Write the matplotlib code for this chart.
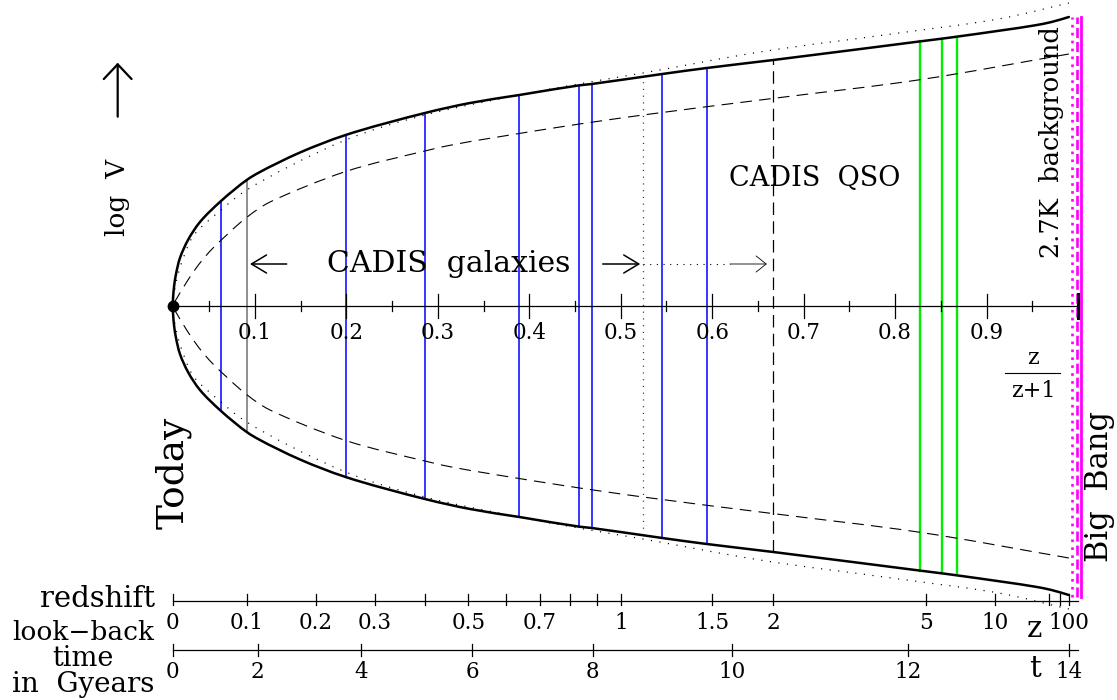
import numpy as np
import matplotlib
matplotlib.use("Agg")
import matplotlib.pyplot as plt
from matplotlib.path import Path
from matplotlib.patches import PathPatch

plt.rcParams['font.family'] = ['DejaVu Serif']

# Horizontal coordinate: s = z/(z+1).  Vertical coordinate: log V offset
# (arbitrary units, mirrored about the s axis).
S_TODAY = 0.0101

# Outer (solid) volume envelope
solid_s = [0.0101, 0.0115, 0.0137, 0.0180, 0.0271, 0.0399, 0.0629, 0.0910,
           0.1055, 0.1493, 0.1992, 0.2859, 0.3352, 0.3891, 0.4543, 0.4682,
           0.5454, 0.5940, 0.6668, 0.8272, 0.8516, 0.8680, 0.9155, 0.9525,
           0.9710, 0.9900]
solid_h = [0, 19, 32, 48, 66.5, 84, 105, 126,
           134, 153.5, 171, 193, 203, 211, 220.6, 222,
           232, 238, 246, 264.6, 267.4, 269.4, 275.5, 280.6,
           284, 289]

# Dotted model
dotted_s = [0.0101, 0.0120, 0.0148, 0.0217, 0.0326, 0.0629, 0.0910, 0.1992,
            0.2859, 0.3891, 0.4554, 0.5243, 0.6556, 0.8043, 0.9155, 0.9900]
dotted_h = [0, 15, 28, 48, 70, 96, 116, 166,
            191, 211, 222.3, 233, 254.5, 273, 287.4, 303]

# Dashed model
dashed_s = [0.0101, 0.0148, 0.0213, 0.0326, 0.0443, 0.0563, 0.0691, 0.0847,
            0.1019, 0.1165, 0.1992, 0.2859, 0.3133, 0.4336, 0.5243, 0.6675,
            0.8272, 0.9900]
dashed_h = [0, 8, 18, 34, 48, 60, 71, 84,
            96, 104, 134.5, 155, 160.7, 179, 191, 207.7,
            226.3, 252]

# Survey fields / objects
blue_s = [0.0625, 0.1992, 0.2859, 0.3891, 0.4543, 0.4682, 0.5454, 0.5940]
green_s = [0.8272, 0.8516, 0.8680]
gray_s = 0.0909          # z = 0.1
galaxy_limit_s = 0.5243  # z ~ 1.1
qso_limit_s = 0.6667     # z = 2

# 2.7K background / Big Bang markers
cmb_dotted_s = 0.9931
cmb_dashed_s = 0.9992
bigbang_s = 1.0033
marker_top, marker_bottom = 289, -291

# Main axis ticks
main_major = [0.1, 0.2, 0.3, 0.4, 0.5, 0.6, 0.7, 0.8, 0.9]
main_minor = [0.05, 0.15, 0.25, 0.35, 0.45, 0.55, 0.65, 0.75, 0.85, 0.95]

# Redshift scale
z_ticks = [0, 0.1, 0.2, 0.3, 0.4, 0.5, 0.6, 0.7, 0.8, 0.9, 1, 1.5, 2, 5, 10, 30, 50, 100]
z_labels = {0: "0", 0.1: "0.1", 0.2: "0.2", 0.3: "0.3", 0.5: "0.5", 0.7: "0.7",
            1: "1", 1.5: "1.5", 2: "2", 5: "5", 10: "10", 100: "100"}

# Look-back time scale (Gyr) and positions on the s axis
t_ticks = [0, 2, 4, 6, 8, 10, 12, 14]
t_pos = [S_TODAY, 0.1030, 0.2159, 0.3376, 0.4693, 0.6213, 0.8146, 0.9905]

# ---------------------------------------------------------------------------
fig = plt.figure(figsize=(11.17, 7.0), dpi=100)
ax = fig.add_axes([0, 0, 1, 1])
ax.set_xlim(-163.5 / 914.5, (1117 - 163.5) / 914.5)
ax.set_ylim(306 - 700, 306)
ax.axis('off')

solid_s = np.array(solid_s); solid_h = np.array(solid_h)
dotted_s = np.array(dotted_s); dotted_h = np.array(dotted_h)
dashed_s = np.array(dashed_s); dashed_h = np.array(dashed_h)

SX = 914.5  # screen scale of s, used for the curve geometry


def mirrored(s, h):
    """Lower branch (reversed) followed by the upper branch."""
    s = np.asarray(s); h = np.asarray(h)
    return np.concatenate([s[::-1], s[1:]]), np.concatenate([-h[::-1], h[1:]])


def smooth_curve(s, h, **kw):
    """Centripetal Catmull-Rom curve through the points, as Bezier segments."""
    P = np.column_stack([np.asarray(s) * SX, np.asarray(h, dtype=float)])
    P = np.vstack([2 * P[0] - P[1], P, 2 * P[-1] - P[-2]])
    verts = [P[1]]
    codes = [Path.MOVETO]
    for i in range(1, len(P) - 2):
        p0, p1, p2, p3 = P[i - 1], P[i], P[i + 1], P[i + 2]
        d1 = np.linalg.norm(p1 - p0) ** 0.5
        d2 = np.linalg.norm(p2 - p1) ** 0.5
        d3 = np.linalg.norm(p3 - p2) ** 0.5
        b1 = (d1**2 * p2 - d2**2 * p0 + (2 * d1**2 + 3 * d1 * d2 + d2**2) * p1) / (3 * d1 * (d1 + d2))
        b2 = (d3**2 * p1 - d2**2 * p3 + (2 * d3**2 + 3 * d3 * d2 + d2**2) * p2) / (3 * d3 * (d3 + d2))
        verts += [b1, b2, p2]
        codes += [Path.CURVE4] * 3
    V = np.array(verts)
    V[:, 0] /= SX
    ax.add_patch(PathPatch(Path(V, codes), fill=False, **kw))


def envelope(s):
    return np.interp(s, solid_s, solid_h)


# vertical field lines between the envelopes
for s in blue_s:
    hh = envelope(s)
    ax.plot([s, s], [-hh, hh], color='#0000ff', lw=1.1, zorder=2)
for s in green_s:
    hh = envelope(s)
    ax.plot([s, s], [-hh, hh], color='#00ee00', lw=1.7, zorder=2)
hh = envelope(gray_s)
ax.plot([gray_s, gray_s], [-hh, hh], color='#707070', lw=1.1, zorder=2)
hh = envelope(galaxy_limit_s)
ax.plot([galaxy_limit_s] * 2, [-hh, hh], color='#333333', lw=0.9,
        ls=(0, (0.9, 4.5)), zorder=2)
hh = envelope(qso_limit_s)
ax.plot([qso_limit_s] * 2, [-hh, hh], color='black', lw=0.9,
        ls=(0, (10, 5)), zorder=2)

# envelopes
smooth_curve(*mirrored(solid_s, solid_h), edgecolor='black', lw=1.8,
             zorder=4, capstyle='round', joinstyle='round')
smooth_curve(*mirrored(dotted_s, dotted_h), edgecolor='black', lw=0.9,
             ls=(0, (0.9, 6.0)), zorder=3)
smooth_curve(*mirrored(dashed_s, dashed_h), edgecolor='black', lw=0.8,
             ls=(0, (10.5, 6.5)), zorder=3)

# 2.7K background and Big Bang
ax.plot([cmb_dotted_s] * 2, [marker_bottom, marker_top], color='#ff00ff',
        lw=1.9, ls=(0, (1, 2)), zorder=5)
ax.plot([cmb_dashed_s] * 2, [marker_bottom, marker_top], color='#ff00ff',
        lw=1.9, ls=(0, (3.8, 1.5)), zorder=5)
ax.plot([bigbang_s] * 2, [marker_bottom, marker_top], color='#ff00ff',
        lw=2.0, zorder=5)

# main s axis
ax.plot([S_TODAY, 1.0], [0, 0], color='black', lw=0.9, zorder=3)
for s in main_major:
    ax.plot([s, s], [-12, 12], color='black', lw=0.9, zorder=3)
    ax.text(s, -27, f"{s:.1f}", ha='center', va='center', fontsize=15.5)
for s in main_minor:
    ax.plot([s, s], [-5, 5], color='black', lw=0.9, zorder=3)
ax.plot([1.0, 1.0], [-12, 12], color='black', lw=2.2, zorder=6)
ax.plot([S_TODAY], [0], 'o', color='black', ms=7.5, zorder=7)

ax.text(0.9508, -52, "z", ha='center', va='center', fontsize=16)
ax.plot([0.9202, 0.9803], [-67, -67], color='black', lw=0.8)
ax.text(0.9508, -85, "z+1", ha='center', va='center', fontsize=16)

# redshift scale
zy = -294.7
ax.plot([S_TODAY, 1.0], [zy, zy], color='black', lw=0.9)
for z in z_ticks:
    s = max(z / (1 + z), S_TODAY)
    ax.plot([s, s], [zy + 6.5, zy - 4], color='black', lw=0.9)
    if z in z_labels:
        ax.text(s, -317, z_labels[z], ha='center', va='center', fontsize=15.5)
ax.text(0.9519, -323, "z", ha='center', va='center', fontsize=21)
ax.text(-0.0093, zy + 2, "redshift", ha='right', va='center', fontsize=21)

# look-back time scale
ty = -343.7
ax.plot([S_TODAY, 1.0], [ty, ty], color='black', lw=0.9)
for t, s in zip(t_ticks, t_pos):
    ax.plot([s, s], [ty + 6, ty - 6], color='black', lw=0.9)
    ax.text(s, -366, str(t), ha='center', va='center', fontsize=15.5)
ax.text(0.953, -363, "t", ha='center', va='center', fontsize=21)
ax.text(-0.088, -327, "look\u2212back", ha='center', va='center', fontsize=19)
ax.text(-0.088, -353, "time", ha='center', va='center', fontsize=19.5)
ax.text(-0.088, -379, "in  Gyears", ha='center', va='center', fontsize=20)

# annotations
ax.text(0.3122, 42, "CADIS  galaxies", ha='center', va='center', fontsize=21.5)
ax.text(0.7124, 127.7, "CADIS  QSO", ha='center', va='center', fontsize=19.5)
ax.text(0.9705, 164, "2.7K  background", ha='center', va='center',
        rotation=90, fontsize=18.5)
ax.text(1.0240, -180, "Big  Bang", ha='center', va='center', rotation=90,
        fontsize=22)
ax.text(0.0104, -167, "Today", ha='center', va='center', rotation=90,
        fontsize=27)
ax.text(-0.0498, 109, "log  V", ha='center', va='center', rotation=90,
        fontsize=19)

arrow_bold = dict(arrowstyle='->,head_length=1.08,head_width=0.65', lw=1.1,
                  color='black', shrinkA=0, shrinkB=0, mutation_scale=10)
arrow_thin = dict(arrowstyle='->,head_length=0.72,head_width=0.58', lw=0.6,
                  color='black', shrinkA=0, shrinkB=0, mutation_scale=10)
arrow_up = dict(arrowstyle='->,head_length=1.06,head_width=1.0', lw=1.6,
                color='black', shrinkA=0, shrinkB=0, mutation_scale=10)

ax.annotate("", xy=(0.0946, 42), xytext=(0.1347, 42), arrowprops=arrow_bold)
ax.annotate("", xy=(galaxy_limit_s - 0.003, 42), xytext=(0.4803, 42),
            arrowprops=arrow_bold)
ax.plot([galaxy_limit_s, 0.6194], [42, 42], color='black', lw=0.8,
        ls=(0, (1, 5)))
ax.annotate("", xy=(qso_limit_s - 0.007, 42), xytext=(0.6194, 42),
            arrowprops=arrow_thin)
ax.annotate("", xy=(-0.0501, 243.3), xytext=(-0.0501, 189.3),
            arrowprops=arrow_up)

fig.savefig("out.png", dpi=100)
